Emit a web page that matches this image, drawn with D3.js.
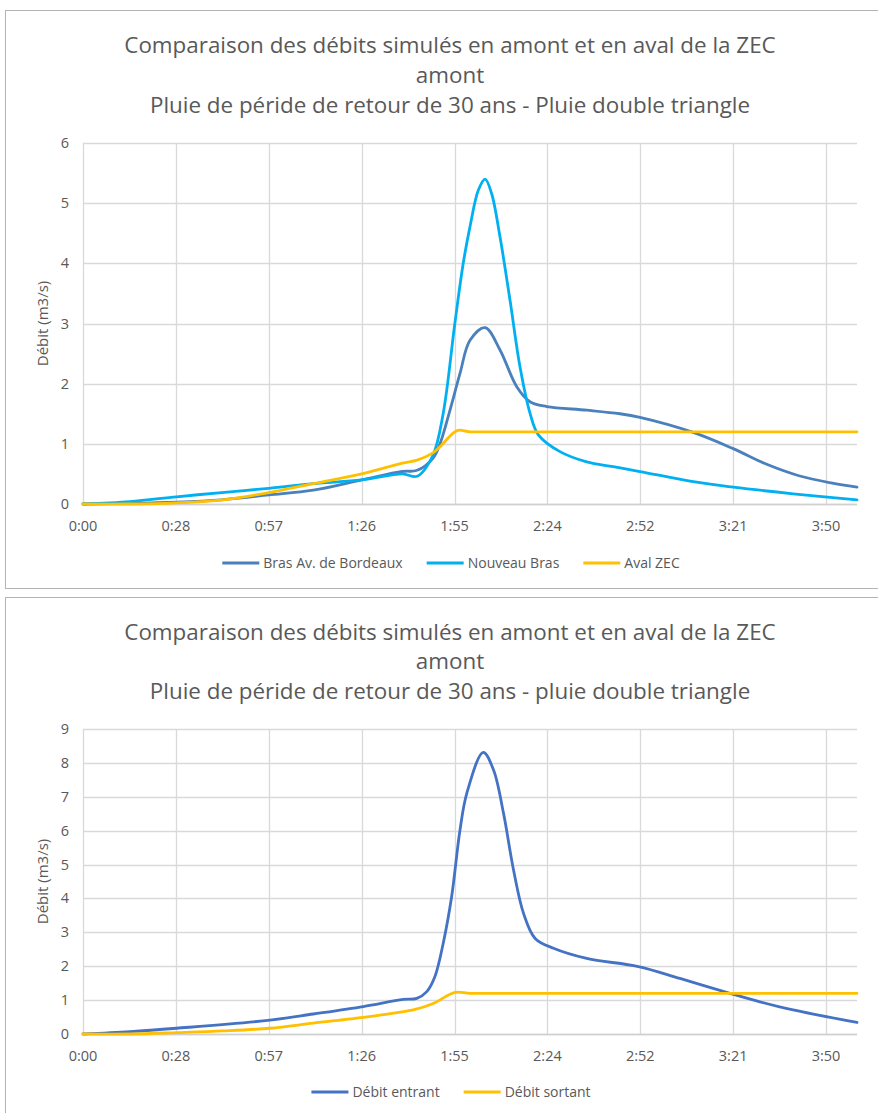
<!DOCTYPE html>
<html><head><meta charset="utf-8">
<script src="https://cdn.jsdelivr.net/npm/d3@7"></script>
<style>body{margin:0;background:#fff;} svg{display:block;} text{font-family:"Open Sans","Noto Sans",sans-serif;fill:#595959;}</style>
</head><body>
<svg id="c" width="878" height="1113"></svg>
<script>
// ---- Data (time in minutes) ----
const tickMinutes = [0, 28.8, 57.6, 86.4, 115.2, 144, 172.8, 201.6, 230.4];
const tickLabels = ["0:00","0:28","0:57","1:26","1:55","2:24","2:52","3:21","3:50"];

// Chart 1
const brasTime  = [0, 14.6, 29, 43, 57.6, 71.4, 86.4, 99, 103.6, 108.5, 110.7, 113.8, 116.9, 120, 124.7, 129.3, 134.5, 138.6, 143.8, 156.2, 166.5, 172.7, 189.2, 201.6, 212, 222, 232, 240];
const brasVal   = [0, 0.01, 0.03, 0.07, 0.15, 0.23, 0.40, 0.54, 0.56, 0.76, 1.0, 1.56, 2.17, 2.72, 2.93, 2.56, 1.95, 1.70, 1.62, 1.56, 1.50, 1.44, 1.19, 0.92, 0.66, 0.47, 0.35, 0.28];
const nouvTime  = [0, 14.6, 29, 43, 57.6, 71.4, 86.4, 99, 103.6, 108.5, 111.7, 115.3, 117.9, 120, 122.6, 124.7, 126.7, 129.3, 132.4, 135.5, 138.6, 141.2, 147.9, 156.2, 164.4, 172.7, 189.2, 201.6, 220.2, 240];
const nouvVal   = [0, 0.04, 0.12, 0.19, 0.26, 0.34, 0.40, 0.50, 0.46, 0.81, 1.51, 3.0, 4.0, 4.61, 5.22, 5.40, 5.16, 4.44, 3.39, 2.28, 1.51, 1.15, 0.87, 0.70, 0.62, 0.54, 0.37, 0.28, 0.17, 0.07];
const avalTime  = [0, 14.6, 29, 43.4, 57.6, 71.4, 86.4, 99, 103.6, 108.5, 110.7, 116, 120, 130, 240];
const avalVal   = [0, 0.0, 0.02, 0.07, 0.19, 0.34, 0.50, 0.68, 0.73, 0.85, 0.95, 1.22, 1.20, 1.20, 1.20];

// Chart 2
const entTime = [0, 14.6, 29, 58, 71.4, 86.9, 99.3, 103.5, 106.6, 109.1, 111.7, 114.3, 116.9, 119, 124.1, 127.3, 130.4, 133.5, 136.6, 140.2, 145.9, 156.2, 172.2, 185.1, 200.6, 209.9, 220.2, 240];
const entVal  = [0, 0.07, 0.17, 0.41, 0.59, 0.81, 1.02, 1.05, 1.25, 1.69, 2.68, 4.05, 6.02, 7.10, 8.31, 7.79, 6.51, 4.84, 3.56, 2.82, 2.53, 2.23, 1.99, 1.64, 1.20, 0.95, 0.71, 0.34];
const sortTime = [0, 14.6, 29, 43.5, 58, 71.4, 86.9, 92.1, 102.4, 108.6, 115.4, 120, 130, 240];
const sortVal  = [0, 0.0, 0.04, 0.09, 0.17, 0.32, 0.49, 0.56, 0.71, 0.90, 1.23, 1.20, 1.20, 1.20];

const charts = [
  {
    box:[5.5,10.5,900,578], titleY:[53,83,113],
    title:["Comparaison des débits simulés en amont et en aval de la ZEC","amont","Pluie de péride de retour de 30 ans - Pluie double triangle"],
    plot:{l:83,r:857,t:143,b:504}, yMax:6, yTicks:d3.range(0,7),
    xLabY:531, legY:563,
    series:[
      {name:"Bras Av. de Bordeaux", t:brasTime, v:brasVal, color:"#4A80BC"},
      {name:"Nouveau Bras", t:nouvTime, v:nouvVal, color:"#00B0F0"},
      {name:"Aval ZEC", t:avalTime, v:avalVal, color:"#FFC000"}
    ]
  },
  {
    box:[5.5,597.5,900,560], titleY:[640,669,699],
    title:["Comparaison des débits simulés en amont et en aval de la ZEC","amont","Pluie de péride de retour de 30 ans - pluie double triangle"],
    plot:{l:83,r:857,t:729,b:1034}, yMax:9, yTicks:d3.range(0,10),
    xLabY:1061, legY:1092,
    series:[
      {name:"Débit entrant", t:entTime, v:entVal, color:"#4472C4"},
      {name:"Débit sortant", t:sortTime, v:sortVal, color:"#FFC000"}
    ]
  }
];

const svg = d3.select("#c");
const cx = 451;

charts.forEach(ch => {
  const g = svg.append("g");
  g.append("rect").attr("x",ch.box[0]).attr("y",ch.box[1]).attr("width",ch.box[2]).attr("height",ch.box[3])
    .attr("fill","#fff").attr("stroke","#b4b4b4").attr("stroke-width",1);

  ch.title.forEach((t,i)=>{
    g.append("text").attr("x",cx-1).attr("y",ch.titleY[i]).attr("text-anchor","middle")
      .attr("font-size",22.4).text(t);
  });

  const p = ch.plot;
  const x = d3.scaleLinear().domain([0,240]).range([p.l,p.r]);
  const y = d3.scaleLinear().domain([0,ch.yMax]).range([p.b,p.t]);

  // gridlines
  g.append("g").selectAll("line.h").data(ch.yTicks).join("line")
    .attr("x1",p.l).attr("x2",p.r).attr("y1",d=>Math.round(y(d))+0.5).attr("y2",d=>Math.round(y(d))+0.5)
    .attr("stroke","#d9d9d9").attr("stroke-width",1.3);
  g.append("g").selectAll("line.v").data(tickMinutes).join("line")
    .attr("x1",d=>Math.round(x(d))+0.5).attr("x2",d=>Math.round(x(d))+0.5).attr("y1",p.t).attr("y2",p.b)
    .attr("stroke","#d9d9d9").attr("stroke-width",1.3);
  g.append("line").attr("x1",p.l).attr("x2",p.r).attr("y1",p.b+0.5).attr("y2",p.b+0.5)
    .attr("stroke","#d0d0d0").attr("stroke-width",1.5);

  // y tick labels
  g.append("g").selectAll("text").data(ch.yTicks).join("text")
    .attr("x",p.l-14).attr("y",d=>y(d)+5).attr("text-anchor","end").attr("font-size",14.5).text(d=>d);
  // x tick labels
  g.append("g").selectAll("text").data(tickMinutes).join("text")
    .attr("x",d=>x(d)).attr("y",ch.xLabY).attr("text-anchor","middle").attr("font-size",14.5)
    .text((d,i)=>tickLabels[i]);
  // y axis title
  const ym = (p.t+p.b)/2;
  g.append("text").attr("transform",`translate(48,${ym}) rotate(-90)`).attr("text-anchor","middle")
    .attr("font-size",15).text("Débit (m3/s)");

  // lines
  const line = d3.line().x(d=>x(d[0])).y(d=>y(d[1])).curve(d3.curveCatmullRom.alpha(0.5));
  ch.series.forEach(s=>{
    const pts = s.t.map((t,i)=>[t,s.v[i]]);
    g.append("path").datum(pts).attr("d",line).attr("fill","none")
      .attr("stroke",s.color).attr("stroke-width",2.8).attr("stroke-linejoin","round").attr("stroke-linecap","round");
  });

  // legend
  const lg = g.append("g");
  const items = ch.series.map(s=>{
    const it = lg.append("g");
    it.append("line").attr("x1",0).attr("x2",37).attr("y1",0).attr("y2",0).attr("stroke",s.color).attr("stroke-width",2.8);
    const tx = it.append("text").attr("x",41).attr("y",5).attr("font-size",14).text(s.name);
    return {g:it, w:41+tx.node().getComputedTextLength()};
  });
  const gap = 24;
  const total = d3.sum(items,d=>d.w)+gap*(items.length-1);
  let xx = cx - total/2;
  items.forEach(it=>{ it.g.attr("transform",`translate(${xx},${ch.legY})`); xx += it.w+gap; });
});
</script>
</body></html>
